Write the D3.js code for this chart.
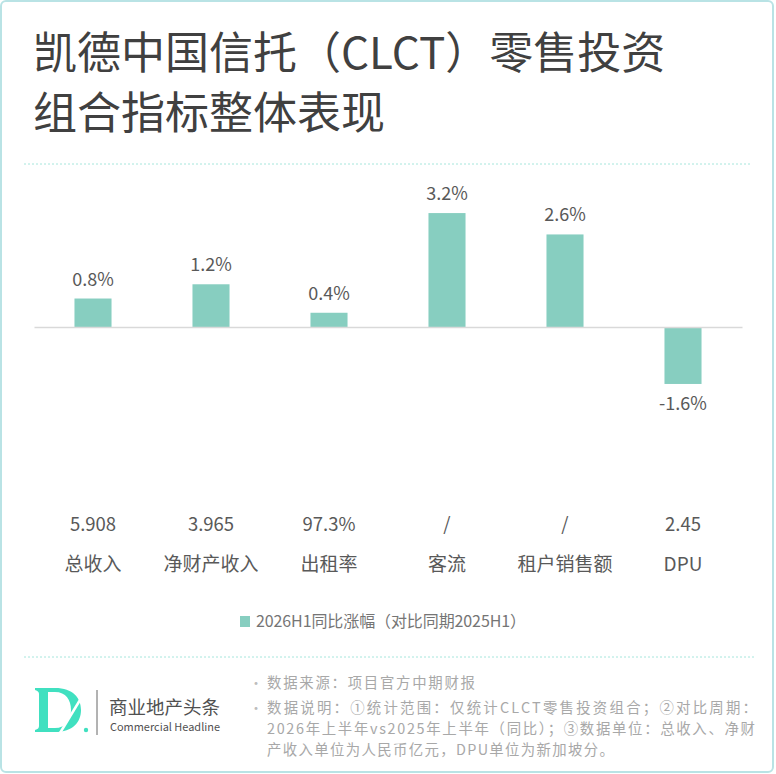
<!DOCTYPE html>
<html>
<head>
<meta charset="utf-8">
<script src="https://cdn.jsdelivr.net/npm/d3@7"></script>
<style>
  html, body { margin: 0; padding: 0; background: #fff; }
  svg { display: block; font-family: "Noto Sans CJK SC", "Noto Sans", sans-serif; }
</style>
</head>
<body>
<svg id="chart" width="776" height="774"></svg>
<script>
// ---- data ----
const categories = ["总收入", "净财产收入", "出租率", "客流", "租户销售额", "DPU"];
const growth = [0.8, 1.2, 0.4, 3.2, 2.6, -1.6];          // 2026H1 同比涨幅 (%)
const growthLabels = ["0.8%", "1.2%", "0.4%", "3.2%", "2.6%", "-1.6%"];
const absValues = ["5.908", "3.965", "97.3%", "/", "/", "2.45"];
const seriesName = "2026H1同比涨幅（对比同期2025H1）";
const titleLines = ["凯德中国信托（CLCT）零售投资", "组合指标整体表现"];
const notes = [
  ["数据来源：项目官方中期财报"],
  ["数据说明：①统计范围：仅统计CLCT零售投资组合；②对比周期：",
   "2026年上半年vs2025年上半年（同比）；③数据单位：总收入、净财",
   "产收入单位为人民币亿元，DPU单位为新加坡分。"]
];
const noteWidths = [[208], [490, 488, 347]];

const svg = d3.select("#chart");
const W = 776, H = 774;
const barColor = "#87cec0";

// card border
svg.append("rect").attr("x", 1).attr("y", 1).attr("width", W - 4).attr("height", H - 3)
  .attr("rx", 5).attr("fill", "#fff").attr("stroke", "#b9e3e5").attr("stroke-width", 2);

// title
const title = svg.append("text").attr("fill", "#404040").attr("font-size", 44);
titleLines.forEach((t, i) => {
  title.append("tspan").attr("x", 33).attr("y", 69 + i * 60).text(t);
});

// separators
[[164, 24, 751], [657, 24, 755]].forEach(([y, x1, x2]) => {
  svg.append("line").attr("x1", x1).attr("x2", x2).attr("y1", y).attr("y2", y)
    .attr("stroke", "#a6e6dc").attr("stroke-width", 1).attr("stroke-dasharray", "2,2");
});

// scales
const x = d3.scaleBand().domain(categories).range([34, 742])
  .paddingInner(0.686).paddingOuter(0.343);
const y = d3.scaleLinear().domain([-4, 4]).range([327 + 142.4, 327 - 142.4]);

const g = svg.append("g");

// bars
g.selectAll("rect.bar").data(growth).enter().append("rect")
  .attr("class", "bar")
  .attr("x", (d, i) => x(categories[i]))
  .attr("width", x.bandwidth())
  .attr("y", d => y(Math.max(0, d)))
  .attr("height", d => Math.abs(y(d) - y(0)))
  .attr("fill", barColor);

// zero axis
const axis = d3.axisBottom(x).tickSize(0).tickFormat("");
const axG = g.append("g").attr("transform", `translate(0,${y(0)})`).call(axis);
axG.select(".domain").attr("stroke", "#d9d9d9").attr("stroke-width", 1.5);

// bar value labels
g.selectAll("text.val").data(growth).enter().append("text")
  .attr("class", "val")
  .attr("x", (d, i) => x(categories[i]) + x.bandwidth() / 2)
  .attr("y", d => d >= 0 ? y(d) - 13 : y(d) + 26)
  .attr("text-anchor", "middle")
  .attr("font-size", 18)
  .attr("fill", "#595959")
  .text((d, i) => growthLabels[i]);

// absolute values row
g.selectAll("text.abs").data(absValues).enter().append("text")
  .attr("class", "abs")
  .attr("x", (d, i) => x(categories[i]) + x.bandwidth() / 2)
  .attr("y", 531)
  .attr("text-anchor", "middle")
  .attr("font-size", 18.5)
  .attr("fill", "#595959")
  .text(d => d);

// category labels
g.selectAll("text.cat").data(categories).enter().append("text")
  .attr("class", "cat")
  .attr("x", d => x(d) + x.bandwidth() / 2)
  .attr("y", 571)
  .attr("text-anchor", "middle")
  .attr("font-size", 19)
  .attr("fill", "#595959")
  .text(d => d);

// legend
const leg = svg.append("g");
leg.append("rect").attr("x", 240).attr("y", 616).attr("width", 10).attr("height", 11).attr("fill", barColor);
leg.append("text").attr("x", 256).attr("y", 627).attr("font-size", 16).attr("fill", "#757575")
  .attr("textLength", 270).attr("lengthAdjust", "spacing").text(seriesName);

// logo
const logo = svg.append("g");
logo.append("path")
  .attr("d", "M35,688 H55 C73,688 81,698 81,710 C81,722 73,732 55,732 H35 V730 C38,729 39,728 39,726 V694 C39,692 38,691 35,690 Z M48,692 V728 H55 C66,728 71,720 71,710 C71,700 66,692 55,692 Z")
  .attr("fill", "#40e0c0").attr("fill-rule", "evenodd");
logo.append("line").attr("x1", 80).attr("y1", 700).attr("x2", 60).attr("y2", 733)
  .attr("stroke", "#fff").attr("stroke-width", 2.5);
logo.append("circle").attr("cx", 86).attr("cy", 730).attr("r", 2.2).attr("fill", "#40e0c0");
logo.append("line").attr("x1", 97).attr("x2", 97).attr("y1", 690).attr("y2", 735)
  .attr("stroke", "#666").attr("stroke-width", 1);
logo.append("text").attr("x", 109).attr("y", 714).attr("font-size", 18.5).attr("fill", "#505050").text("商业地产头条");
logo.append("text").attr("x", 110).attr("y", 731).attr("font-size", 11).attr("fill", "#505050")
  .attr("textLength", 110).attr("lengthAdjust", "spacingAndGlyphs").text("Commercial Headline");

// notes
let ly = 688;
notes.forEach((para, pi) => {
  svg.append("text").attr("x", 249).attr("y", ly).attr("font-size", 14).attr("fill", "#bdbdbd").text("•");
  para.forEach((line, li) => {
    svg.append("text").attr("x", 267).attr("y", ly).attr("font-size", 14.4).attr("fill", "#a8a8a8")
      .attr("textLength", noteWidths[pi][li]).attr("lengthAdjust", "spacing").text(line);
    ly += 21;
  });
  ly += 4;
});
</script>
</body>
</html>
